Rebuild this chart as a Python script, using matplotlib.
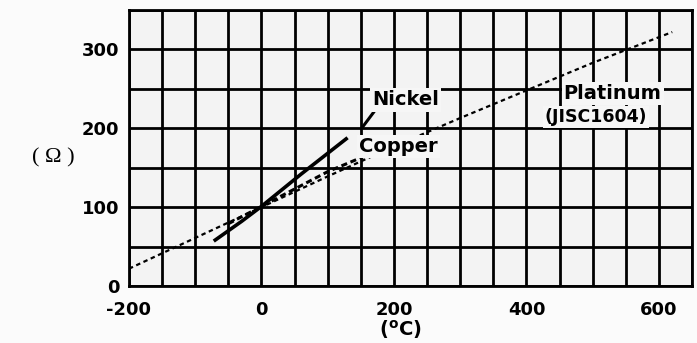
"""Resistance vs temperature for RTD materials (Platinum, Nickel, Copper)."""

import matplotlib.pyplot as plt
import numpy as np

# values (deg C, ohm)
platinum_t = [-200, -100, 0, 100, 200, 300, 400, 500, 620]
platinum_r = [22, 61, 100, 139, 177, 213, 248, 283, 322]

nickel_t = [-72, -30, 0, 60, 130]
nickel_r = [57, 82, 101, 142, 188]

copper_t = [-50, 0, 50, 100, 168]
copper_r = [79, 101, 123, 145, 169]

x_ticks = [-200, 0, 200, 400, 600]
y_ticks = [0, 100, 200, 300]

plt.rcParams["font.family"] = ["DejaVu Sans"]
plt.rcParams["axes.unicode_minus"] = False

fig = plt.figure(figsize=(6.97, 3.43), dpi=100)
fig.patch.set_facecolor("#fbfbfb")
ax = fig.add_axes([0.185, 0.166, 0.808, 0.805])
ax.set_facecolor("#f3f3f3")

ax.set_xlim(-200, 650)
ax.set_ylim(0, 350)

# heavy grid every 50 units, like the printed graph paper
for gx in np.arange(-200, 651, 50):
    ax.axvline(gx, color="black", lw=2.0, zorder=1)
for gy in np.arange(0, 351, 50):
    ax.axhline(gy, color="black", lw=2.0, zorder=1)
for side in ax.spines.values():
    side.set_linewidth(2.0)

ax.plot(platinum_t, platinum_r, color="black", lw=1.6, ls=(0, (2, 1.6)), zorder=3)
ax.plot(copper_t, copper_r, color="black", lw=2.2, ls=(0, (2, 1.2)), zorder=3)
ax.plot(nickel_t, nickel_r, color="black", lw=2.6, solid_capstyle="butt", zorder=4)

box = dict(facecolor="#f6f6f6", edgecolor="none", pad=1.5)
ax.annotate("Nickel", xy=(153, 202), xytext=(218, 236), ha="center", va="center",
            fontsize=14, fontweight="bold", bbox=box, zorder=5,
            arrowprops=dict(arrowstyle="-", lw=2.2, color="black", shrinkA=0, shrinkB=0,
                            relpos=(0.05, 0.0)))
ax.text(207, 177, "Copper", ha="center", va="center", fontsize=14,
        fontweight="bold", bbox=box, zorder=5)
ax.text(530, 244, "Platinum", ha="center", va="center", fontsize=14,
        fontweight="bold", bbox=box, zorder=5)
ax.text(505, 214, "(JISC1604)", ha="center", va="center", fontsize=12.5,
        fontweight="bold", bbox=box, zorder=5)

ax.set_xticks(x_ticks)
ax.set_yticks(y_ticks)
ax.tick_params(length=0, labelsize=13)
ax.tick_params(axis="x", pad=11)
ax.tick_params(axis="y", pad=7)
for lab in ax.get_xticklabels() + ax.get_yticklabels():
    lab.set_fontweight("bold")

fig.text(0.076, 0.54, "( Ω )", ha="center", va="center", fontsize=16,
         family=["Liberation Serif", "DejaVu Serif"])
fig.text(0.574, 0.04, "($\\mathregular{^o}$C)", ha="center", va="center",
         fontsize=14, fontweight="bold")

fig.savefig("out.png", dpi=100, facecolor=fig.get_facecolor())
